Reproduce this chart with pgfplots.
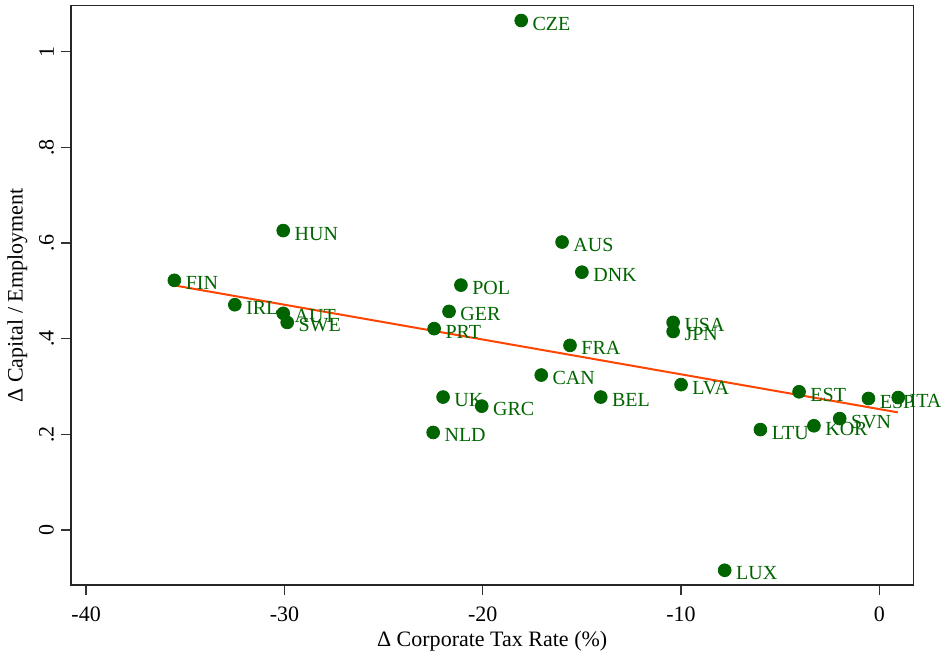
\documentclass[border=0pt]{standalone}
\usepackage{fontspec}
\setmainfont{Liberation Serif}
\usepackage{pgfplots}
\usepackage{pgfplotstable}
\pgfplotsset{compat=1.18}
\usetikzlibrary{calc}
\definecolor{dkg}{RGB}{0,100,0}
\definecolor{ored}{RGB}{255,69,0}
\pgfplotstableread{
x y lab
-35.55 0.522 FIN
-32.5 0.471 IRL
-30.06 0.453 AUT
-29.86 0.434 SWE
-30.06 0.626 HUN
-18.06 1.065 CZE
-21.1 0.512 POL
-21.7 0.457 GER
-22.45 0.421 PRT
-22.0 0.278 UK
-20.05 0.259 GRC
-22.5 0.204 NLD
-16.0 0.602 AUS
-15.0 0.539 DNK
-17.05 0.324 CAN
-15.6 0.386 FRA
-14.05 0.278 BEL
-10.4 0.434 USA
-10.4 0.415 JPN
-10.0 0.304 LVA
-4.05 0.289 EST
-0.55 0.275 ESP
0.95 0.277 ITA
-2.0 0.233 SVN
-3.3 0.218 KOR
-6.0 0.210 LTU
-7.8 -0.084 LUX
}\datatable
\begin{document}
\begin{tikzpicture}
\begin{axis}[
  scale only axis, width=421pt, height=289.6pt,
  xmin=-40.76, xmax=1.71, ymin=-0.115, ymax=1.096,
  xtick={-40,-30,-20,-10,0}, xticklabels={-40,-30,-20,-10,0},
  ytick={0,0.2,0.4,0.6,0.8,1}, yticklabels={0,.2,.4,.6,.8,1},
  tick align=outside, major tick length=5pt,
  tick style={black!80, line width=0.6pt},
  xtick pos=bottom, ytick pos=left,
  axis line style={black!85, line width=0.65pt},
  ticklabel style={font=\fontsize{11}{13}\selectfont},
  yticklabel style={rotate=90, anchor=south},
  xticklabel style={yshift=-2.5pt},
  label style={font=\fontsize{11}{13}\selectfont},
  xlabel={Δ Corporate Tax Rate (\%)},
  ylabel={Δ Capital / Employment},
  xlabel style={yshift=2.5pt},
  ylabel style={yshift=-1pt},
  clip=false,
]
\addplot[ored, line width=1pt] coordinates {(-35.5,0.511) (0.93,0.246)};
\addplot[only marks, mark=*, mark size=3.2pt, mark options={fill=dkg, draw=dkg},
  point meta=explicit symbolic,
  nodes near coords,
  nodes near coords style={anchor=west, inner sep=0pt, xshift=5.5pt, yshift=-1.5pt,
    text=dkg, font=\fontsize{10}{12}\selectfont}]
  table[x=x, y=y, meta=lab] {\datatable};
\end{axis}
\pgfresetboundingbox
\path[use as bounding box] ($(current axis.south west)+(-35.5pt,-33.5pt)$) rectangle ($(current axis.north east)+(13.85pt,2.85pt)$);
\end{tikzpicture}
\end{document}
